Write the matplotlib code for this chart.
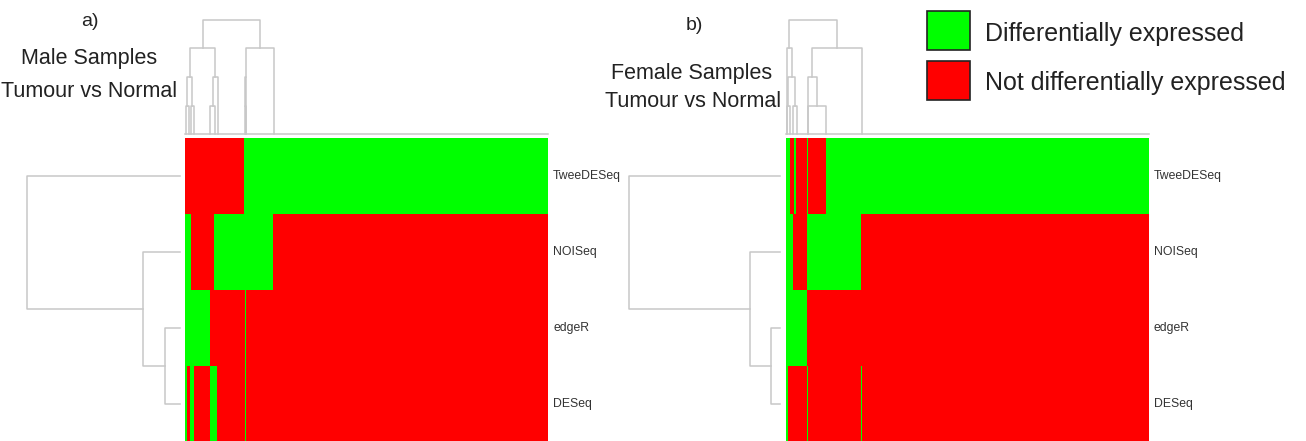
import numpy as np
import matplotlib
matplotlib.use("Agg")
import matplotlib.pyplot as plt
from matplotlib.colors import ListedColormap
from matplotlib.patches import Rectangle

plt.rcParams['font.family'] = ['Liberation Sans', 'DejaVu Sans']

W, H = 1306, 441

methods = ["TweeDESeq", "NOISeq", "edgeR", "DESeq"]

# column blocks (width = number of genes), 1 = differentially expressed
male_widths =      [2, 3, 1, 3, 16, 4, 3, 27, 1, 1, 27, 275]
male_tweedeseq =   [0, 0, 0, 0, 0, 0, 0, 0, 1, 1, 1, 1]
male_noiseq =      [1, 1, 1, 0, 0, 0, 1, 1, 1, 1, 1, 0]
male_edger =       [1, 1, 1, 1, 1, 0, 0, 0, 0, 1, 0, 0]
male_deseq =       [1, 0, 1, 1, 0, 1, 1, 0, 0, 1, 0, 0]

female_widths =    [2, 2, 3, 1, 2, 11, 1, 18, 35, 1, 287]
female_tweedeseq = [1, 1, 0, 0, 1, 0, 1, 0, 1, 1, 1]
female_noiseq =    [1, 1, 1, 0, 0, 0, 1, 1, 1, 0, 0]
female_edger =     [1, 1, 1, 1, 1, 1, 0, 0, 0, 0, 0]
female_deseq =     [1, 0, 0, 0, 0, 0, 1, 0, 0, 1, 0]

# dendrograms: (height, left, right), leaves are positions
male_col_tree = (114, (86, (57, (28, 1, 3.5), (28, 6, 8.5)), (57, (28, 25, 30), 33)),
                 (86, (57, (28, 59.5, 60.5), 61), 89))
female_col_tree = (114, (86, 1.3, (57, (28, 0.8, 3.8), (28, 7, 11))),
                   (86, (57, 21.7, (28, 22, 40)), 76))
male_row_tree = (153, 0.5, (37, 1.5, (15, 2.5, 3.5)))
female_row_tree = (151, 0.5, (30, 1.5, (9, 2.5, 3.5)))

line_col = "#c8c8c8"
cmap = ListedColormap(['#ff0000', '#00ff00'])


def rect(l, t, r, b):
    return [l / W, 1 - b / H, (r - l) / W, (b - t) / H]


def draw_tree(ax, node, vertical=True):
    if not isinstance(node, tuple):
        return node, 0.0
    h, a, b = node
    xa, ha = draw_tree(ax, a, vertical)
    xb, hb = draw_tree(ax, b, vertical)
    xs = [xa, xa, xb, xb]
    hs = [ha, h, h, hb]
    if vertical:
        ax.plot(xs, hs, color=line_col, lw=1.1, clip_on=False)
    else:
        ax.plot(hs, xs, color=line_col, lw=1.1, clip_on=False)
    return (xa + xb) / 2, h


def panel(x_heat, x_row0, x_row1, widths, rows, col_tree, row_tree):
    total = sum(widths)
    edges = np.concatenate([[0], np.cumsum(widths)])
    mat = np.array(rows)

    ax = fig.add_axes(rect(x_heat, 138, x_heat + 363, 442))
    ax.pcolormesh(edges, np.arange(5), mat, cmap=cmap, vmin=0, vmax=1,
                  shading='flat', antialiased=False, edgecolors='none',
                  linewidth=0)
    ax.set_xlim(0, total)
    ax.set_ylim(4, 0)
    ax.set_axis_off()
    for i, m in enumerate(methods):
        ax.text(total + 5 * total / 363, i + 0.5, m, fontsize=8.8,
                color='#333333', va='center', ha='left', clip_on=False)

    axc = fig.add_axes(rect(x_heat, 20, x_heat + 363, 134))
    draw_tree(axc, col_tree, True)
    axc.plot([0, total], [0, 0], color=line_col, lw=1.1, clip_on=False)
    axc.set_xlim(0, total)
    axc.set_ylim(0, 114)
    axc.set_axis_off()

    axr = fig.add_axes(rect(x_row0, 138, x_row1, 442))
    draw_tree(axr, row_tree, False)
    axr.set_xlim(row_tree[0], 0)
    axr.set_ylim(4, 0)
    axr.set_axis_off()


fig = plt.figure(figsize=(W / 100, H / 100), dpi=100)

panel(185, 27, 180, male_widths,
      [male_tweedeseq, male_noiseq, male_edger, male_deseq],
      male_col_tree, male_row_tree)
panel(786, 629, 780, female_widths,
      [female_tweedeseq, female_noiseq, female_edger, female_deseq],
      female_col_tree, female_row_tree)


def ftext(x, y, s, **kw):
    fig.text(x / W, 1 - y / H, s, **kw)


ftext(90, 26, "a)", fontsize=14, ha='center', va='baseline', color='#222222')
ftext(89, 64, "Male Samples", fontsize=15.5, ha='center', va='baseline', color='#222222')
ftext(89, 97, "Tumour vs Normal", fontsize=15.5, ha='center', va='baseline', color='#222222')
ftext(694, 30, "b)", fontsize=14, ha='center', va='baseline', color='#222222')
ftext(692, 79, "Female Samples", fontsize=15.5, ha='center', va='baseline', color='#222222')
ftext(693, 107, "Tumour vs Normal", fontsize=15.5, ha='center', va='baseline', color='#222222')

# legend
for (y0, y1, c, lab, base) in [(11, 50, '#00ff00', "Differentially expressed", 40.5),
                               (61, 100, '#ff0000', "Not differentially expressed", 90)]:
    fig.add_artist(Rectangle((927 / W, 1 - y1 / H), 43 / W, (y1 - y0) / H,
                             transform=fig.transFigure, facecolor=c,
                             edgecolor='#222222', lw=1.2))
    ftext(985, base, lab, fontsize=18, ha='left', va='baseline', color='#222222')

fig.savefig("out.png", dpi=100)
